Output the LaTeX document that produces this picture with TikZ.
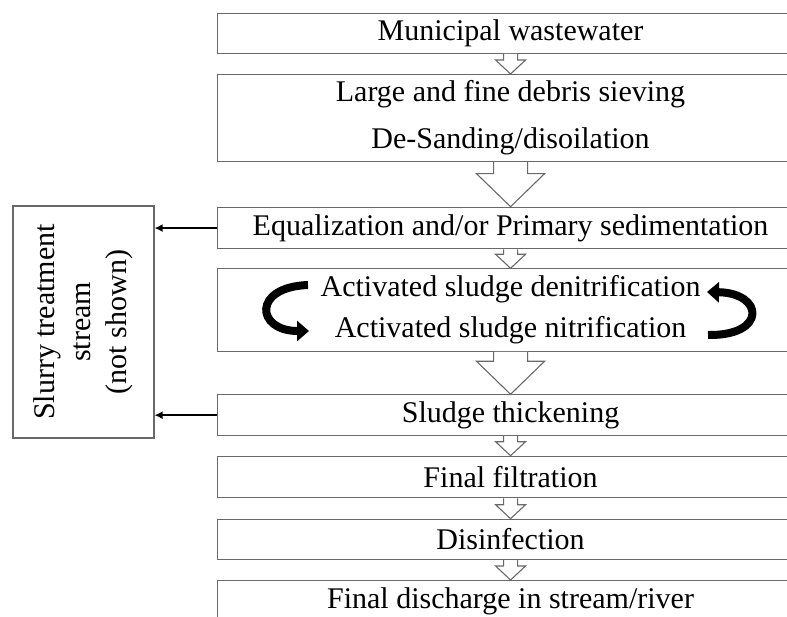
\documentclass[tikz,border=0pt]{standalone}
\usepackage{fontspec}
\setmainfont{Liberation Serif}
\usetikzlibrary{calc,arrows.meta}
\definecolor{linegray}{RGB}{105,105,105}
\newcommand{\bigfont}{\fontsize{30}{34}\selectfont}
\tikzset{
  stage/.style={draw=linegray, line width=1.1pt, anchor=north west,
    minimum width=586pt, inner sep=0pt, align=center, font=\bigfont},
  blockarrow/.style={draw=linegray, line width=1.1pt, fill=white, line join=miter},
  sidearrow/.style={draw=black, line width=1.8pt, -{Latex[length=8pt,width=8pt]}},
  loopfat/.style={draw=black, line width=8pt, -{Triangle[length=12pt,width=20pt]}},
}
\newcommand{\flowarrow}[5]{%
  \draw[blockarrow] let \p1=(#1.south), \p2=(#2.north) in
    (\x1-#3,\y1) -- (\x1-#3,\y2+#5) -- (\x1-#4,\y2+#5) -- (\x2,\y2)
    -- (\x1+#4,\y2+#5) -- (\x1+#3,\y2+#5) -- (\x1+#3,\y1);}
\begin{document}
\begin{tikzpicture}[x=1pt,y=-1pt]
\useasboundingbox (0,0) rectangle (787,617);
\node[stage, minimum height=40pt] (b1) at (217,12.7) {Municipal wastewater};
\node[stage, minimum height=87pt] (b2) at (217,74) {Large and fine debris sieving\\[13pt]De-Sanding/disoilation};
\node[stage, minimum height=41.6pt] (b3) at (217,206.7) {Equalization and/or Primary sedimentation};
\node[stage, minimum height=82.4pt] (b4) at (217,268.3) {Activated sludge denitrification\\[7pt]Activated sludge nitrification};
\node[stage, minimum height=40.7pt] (b5) at (217,394.3) {Sludge thickening};
\node[stage, minimum height=41.6pt] (b6) at (217,455.7) {Final filtration};
\node[stage, minimum height=40.3pt] (b7) at (217,518.7) {Disinfection};
\node[stage, minimum height=41pt] (b8) at (217,580) {Final discharge in stream/river};
\node[draw=linegray, line width=1.1pt, rotate=90, minimum width=232pt, minimum height=141pt,
  inner sep=0pt, align=center, font=\fontsize{30}{36}\selectfont] (slurry) at (83.5,322)
  {Slurry treatment\\stream\\(not shown)};
\flowarrow{b1}{b2}{7pt}{15pt}{14pt}
\flowarrow{b2}{b3}{17pt}{34pt}{33pt}
\flowarrow{b3}{b4}{7pt}{15pt}{14pt}
\flowarrow{b4}{b5}{17pt}{34pt}{33pt}
\flowarrow{b5}{b6}{7pt}{15pt}{14pt}
\flowarrow{b6}{b7}{7pt}{15pt}{14pt}
\flowarrow{b7}{b8}{7pt}{15pt}{14pt}
\draw[sidearrow] (b3.west) -- (b3.west -| slurry.south);
\draw[sidearrow] (b5.west) -- (b5.west -| slurry.south);
\coordinate (l1) at (308,285);
\coordinate (l2) at (309,331);
\coordinate (r1) at (708,335);
\coordinate (r2) at (707,292);
\draw[loopfat] (l1) .. controls (252,287) and (256,331) .. (l2);
\draw[loopfat] (r1) .. controls (767,336) and (764,293) .. (r2);
\end{tikzpicture}
\end{document}
